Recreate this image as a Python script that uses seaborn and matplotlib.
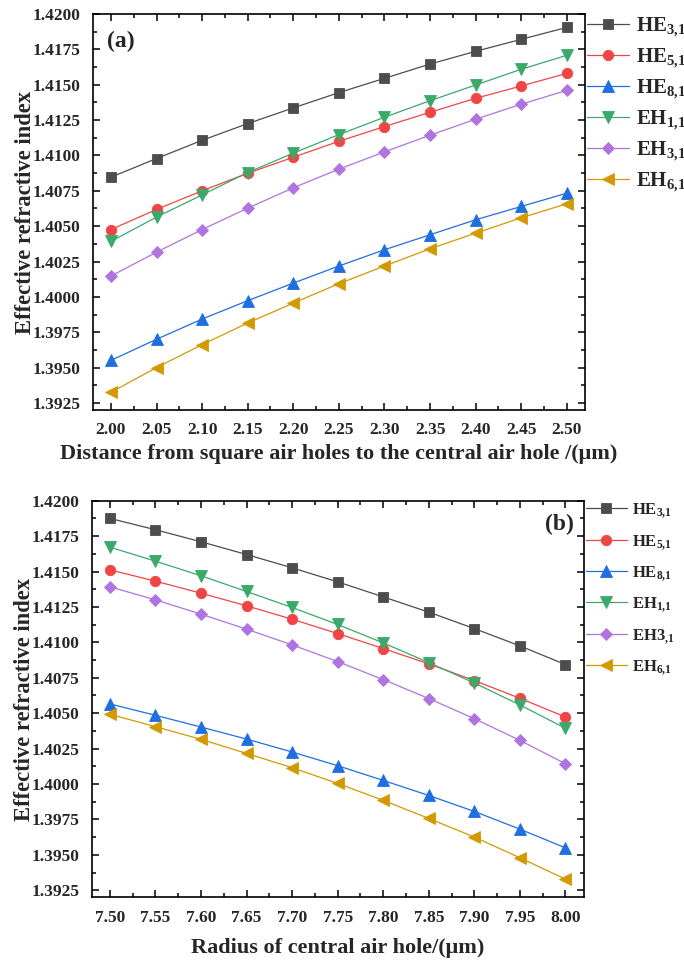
import numpy as np
import pandas as pd
import matplotlib
matplotlib.use("Agg")
import matplotlib.pyplot as plt
import seaborn as sns
from matplotlib.ticker import MultipleLocator, FormatStrFormatter

# ---------------- data ----------------
x_a = [2.00, 2.05, 2.10, 2.15, 2.20, 2.25, 2.30, 2.35, 2.40, 2.45, 2.50]
a_HE31 = [1.40846, 1.40978, 1.41107, 1.41225, 1.41336, 1.41444, 1.41545, 1.41646, 1.41736, 1.41821, 1.41905]
a_HE51 = [1.40476, 1.40618, 1.40750, 1.40874, 1.40987, 1.41100, 1.41204, 1.41305, 1.41404, 1.41491, 1.41580]
a_HE81 = [1.39551, 1.39700, 1.39843, 1.39973, 1.40097, 1.40218, 1.40333, 1.40439, 1.40545, 1.40639, 1.40733]
a_EH11 = [1.40392, 1.40564, 1.40721, 1.40879, 1.41016, 1.41147, 1.41270, 1.41387, 1.41498, 1.41609, 1.41708]
a_EH31 = [1.40147, 1.40316, 1.40476, 1.40627, 1.40771, 1.40903, 1.41025, 1.41143, 1.41256, 1.41362, 1.41460]
a_EH61 = [1.39325, 1.39500, 1.39662, 1.39815, 1.39956, 1.40093, 1.40218, 1.40340, 1.40450, 1.40559, 1.40658]

x_b = [7.50, 7.55, 7.60, 7.65, 7.70, 7.75, 7.80, 7.85, 7.90, 7.95, 8.00]
b_HE31 = [1.41875, 1.41795, 1.41710, 1.41620, 1.41526, 1.41427, 1.41321, 1.41213, 1.41097, 1.40975, 1.40843]
b_HE51 = [1.41512, 1.41432, 1.41347, 1.41258, 1.41163, 1.41062, 1.40956, 1.40848, 1.40730, 1.40605, 1.40473]
b_HE81 = [1.40565, 1.40485, 1.40402, 1.40317, 1.40226, 1.40129, 1.40025, 1.39919, 1.39806, 1.39681, 1.39549]
b_EH11 = [1.41672, 1.41573, 1.41470, 1.41359, 1.41246, 1.41126, 1.40996, 1.40857, 1.40713, 1.40558, 1.40393]
b_EH31 = [1.41392, 1.41300, 1.41199, 1.41093, 1.40982, 1.40864, 1.40737, 1.40603, 1.40461, 1.40308, 1.40143]
b_EH61 = [1.40492, 1.40405, 1.40315, 1.40216, 1.40115, 1.40004, 1.39884, 1.39757, 1.39625, 1.39479, 1.39328]

labels_a = [r"HE$_{\mathrm{3{,}1}}$", r"HE$_{\mathrm{5{,}1}}$", r"HE$_{\mathrm{8{,}1}}$",
            r"EH$_{\mathrm{1{,}1}}$", r"EH$_{\mathrm{3{,}1}}$", r"EH$_{\mathrm{6{,}1}}$"]
labels_b = [r"HE$_{\mathrm{3{,}1}}$", r"HE$_{\mathrm{5{,}1}}$", r"HE$_{\mathrm{8{,}1}}$",
            r"EH$_{\mathrm{1{,}1}}$", r"EH3$_{\mathrm{{,}1}}$", r"EH$_{\mathrm{6{,}1}}$"]
xlabel_a = "Distance from square air holes to the central air hole /(μm)"
xlabel_b = "Radius of central air hole/(μm)"
ylabel = "Effective refractive index"

# ---------------- style ----------------
colors = ["#4d4d4d", "#f04545", "#1f6fe0", "#3aa96a", "#b074e0", "#d39a00"]
markers = ["s", "o", "^", "v", "D", "<"]
msizes = [6.5, 7.5, 8.5, 8.5, 6.5, 8.5]

sns.set_style("ticks")
plt.rcParams["font.family"] = ["Liberation Serif", "DejaVu Serif"]
plt.rcParams["font.weight"] = "bold"
plt.rcParams["axes.labelweight"] = "bold"
plt.rcParams["mathtext.fontset"] = "custom"
plt.rcParams["mathtext.rm"] = "Liberation Serif:bold"
plt.rcParams["mathtext.it"] = "Liberation Serif:italic:bold"
plt.rcParams["mathtext.bf"] = "Liberation Serif:bold"

fig = plt.figure(figsize=(6.84, 9.63), dpi=100)
W, H = 684, 963
ax_a = fig.add_axes([92.7 / W, 1 - 410 / H, (585 - 92.7) / W, (410 - 14) / H])
ax_b = fig.add_axes([91.7 / W, 1 - 897.3 / H, (583.7 - 91.7) / W, (897.3 - 500.7) / H])


def draw(ax, xs, series, labels, xpad):
    for ys, lab, c, m, ms in zip(series, labels, colors, markers, msizes):
        df = pd.DataFrame({"x": xs, "y": ys})
        sns.lineplot(data=df, x="x", y="y", ax=ax, color=c, marker=m,
                     markersize=ms, markeredgecolor=c, markeredgewidth=0.6,
                     linewidth=0.9, label=lab, legend=False)
    for s in ax.spines.values():
        s.set_linewidth(1.2)
        s.set_color("black")
    ax.yaxis.set_major_locator(MultipleLocator(0.0025))
    ax.yaxis.set_minor_locator(MultipleLocator(0.00125))
    ax.yaxis.set_major_formatter(FormatStrFormatter("%.4f"))
    ax.xaxis.set_major_locator(MultipleLocator(0.05))
    ax.xaxis.set_minor_locator(MultipleLocator(0.025))
    ax.xaxis.set_major_formatter(FormatStrFormatter("%.2f"))
    ax.tick_params(which="both", direction="in", top=True, right=True, width=1.1,
                   color="black")
    ax.tick_params(which="major", length=5, labelsize=12.5)
    ax.tick_params(axis="y", which="major", pad=9)
    ax.tick_params(axis="x", which="major", pad=xpad)
    ax.tick_params(which="minor", length=3)
    for t in ax.get_xticklabels() + ax.get_yticklabels():
        t.set_fontweight("bold")
    ax.set_ylim(1.392, 1.420)
    ax.set_ylabel(ylabel, fontsize=16.3, fontweight="bold", labelpad=-3)


draw(ax_a, x_a, [a_HE31, a_HE51, a_HE81, a_EH11, a_EH31, a_EH61], labels_a, 9)
ax_a.set_xlim(1.98, 2.52)
ax_a.set_xlabel(xlabel_a, fontsize=16, fontweight="bold", labelpad=4)
ax_a.text(0.03, 0.93, "(a)", transform=ax_a.transAxes, fontsize=17,
          fontweight="bold", va="center", ha="left")
leg_a = ax_a.legend(handles=ax_a.lines, labels=labels_a, loc="upper left",
                    bbox_to_anchor=(1.004, 0.995), frameon=False, fontsize=15,
                    handlelength=2.0, handletextpad=0.35, labelspacing=0.37,
                    borderaxespad=0.0, borderpad=0.0)

draw(ax_b, x_b, [b_HE31, b_HE51, b_HE81, b_EH11, b_EH31, b_EH61], labels_b, 9)
ax_b.set_xlim(7.48, 8.02)
ax_b.set_xlabel(xlabel_b, fontsize=16, fontweight="bold", labelpad=9)
ax_b.text(0.98, 0.939, "(b)", transform=ax_b.transAxes, fontsize=17,
          fontweight="bold", va="center", ha="right")
leg_b = ax_b.legend(handles=ax_b.lines, labels=labels_b, loc="upper left",
                    bbox_to_anchor=(1.004, 0.998), frameon=False, fontsize=12,
                    handlelength=2.46, handletextpad=0.3, labelspacing=0.74,
                    borderaxespad=0.0, borderpad=0.0)

fig.savefig("out.png", dpi=100)
